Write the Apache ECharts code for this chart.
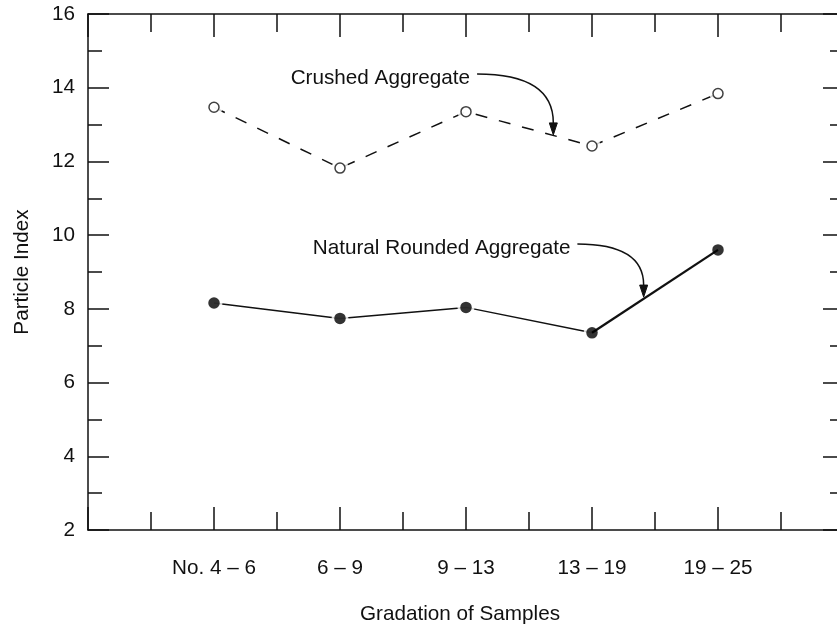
<!DOCTYPE html>
<html>
<head>
<meta charset="utf-8">
<script src="https://cdn.jsdelivr.net/npm/echarts@6/dist/echarts.min.js"></script>
<style>
html,body{margin:0;padding:0;background:#fff;overflow:hidden;}
#chart{width:850px;height:626px;}
</style>
</head>
<body>
<div id="chart"></div>
<script>
// ---- data ----
var categories = ['No. 4 \u2013 6', '6 \u2013 9', '9 \u2013 13', '13 \u2013 19', '19 \u2013 25'];
var crushed = [13.47, 11.82, 13.35, 12.42, 13.84];
var natural = [8.16, 7.74, 8.04, 7.35, 9.6];
var yTicks = [2, 4, 6, 8, 10, 12, 14, 16];
var annotations = [
  { text: 'Crushed Aggregate', start: [2.088, 14.37], end: [2.693, 12.72] },
  { text: 'Natural Rounded Aggregate', start: [2.884, 9.76], end: [3.41, 8.32] }
];

var FONT = "'Liberation Sans', Arial, Helvetica, sans-serif";
var FS = 20.7;
var INK = '#111';

function pairs(arr) { return arr.map(function (v, i) { return [i, v]; }); }

var chart = echarts.init(document.getElementById('chart'), null, { renderer: 'canvas' });

var axisLineStyle = { color: INK, width: 1.5 };
function xAxisCfg(pos, showLabels) {
  return {
    type: 'value', position: pos, min: -1, max: categories.length, interval: 1,
    axisLine: { show: true, onZero: false, lineStyle: axisLineStyle },
    axisTick: { show: true, inside: true, length: 23, lineStyle: axisLineStyle },
    minorTick: { show: true, splitNumber: 2, length: 18, lineStyle: axisLineStyle },
    splitLine: { show: false }, minorSplitLine: { show: false },
    axisLabel: {
      show: showLabels, margin: 28, color: INK, fontFamily: FONT, fontSize: FS,
      formatter: function (v) { return (v >= 0 && v < categories.length && v % 1 === 0) ? categories[v] : ''; }
    },
    name: showLabels ? 'Gradation of Samples' : '',
    nameLocation: 'middle', nameGap: 74,
    nameTextStyle: { color: INK, fontFamily: FONT, fontSize: FS, padding: [0, 12, 0, 0] }
  };
}
function yAxisCfg(pos, showLabels) {
  return {
    type: 'value', position: pos, min: yTicks[0], max: yTicks[yTicks.length - 1], interval: 2,
    axisLine: { show: true, onZero: false, lineStyle: axisLineStyle },
    axisTick: { show: true, inside: true, length: 21, lineStyle: axisLineStyle },
    minorTick: { show: true, splitNumber: 2, length: 14, lineStyle: axisLineStyle },
    splitLine: { show: false }, minorSplitLine: { show: false },
    axisLabel: { show: showLabels, margin: 13, color: INK, fontFamily: FONT, fontSize: FS },
    name: showLabels ? 'Particle Index' : '',
    nameLocation: 'middle', nameGap: 55, nameRotate: 90,
    nameTextStyle: { color: INK, fontFamily: FONT, fontSize: FS }
  };
}

var option = {
  backgroundColor: '#fff',
  animation: false,
  grid: { left: 88, top: 14, right: 6, bottom: 96, containLabel: false, outerBoundsMode: 'none' },
  xAxis: [xAxisCfg('bottom', true), xAxisCfg('top', false)],
  yAxis: [yAxisCfg('left', true), yAxisCfg('right', false)],
  series: [
    { type: 'line', z: 1, data: pairs(crushed), showSymbol: false, symbol: 'none',
      lineStyle: { color: INK, width: 1.5, type: [12, 12] } },
    { type: 'line', z: 1, data: pairs(natural).slice(0, 4), showSymbol: false, symbol: 'none',
      lineStyle: { color: INK, width: 1.5 } },
    { type: 'scatter', z: 2, data: pairs(crushed), symbol: 'circle', symbolSize: 17,
      itemStyle: { color: '#fff' }, silent: true },
    { type: 'scatter', z: 2, data: pairs(natural), symbol: 'circle', symbolSize: 17,
      itemStyle: { color: '#fff' }, silent: true },
    { type: 'line', z: 3, data: pairs(natural).slice(3), showSymbol: false, symbol: 'none',
      lineStyle: { color: INK, width: 2.3 } },
    { type: 'scatter', z: 4, data: pairs(crushed), symbol: 'circle', symbolSize: 10,
      itemStyle: { color: '#fff', borderColor: INK, borderWidth: 1.5 } },
    { type: 'scatter', z: 4, data: pairs(natural), symbol: 'circle', symbolSize: 11.5,
      itemStyle: { color: '#000' } }
  ]
};
chart.setOption(option);

// annotations positioned through the chart's own scales
var elements = [];
annotations.forEach(function (a) {
  var s = chart.convertToPixel({ gridIndex: 0 }, a.start);
  var e = chart.convertToPixel({ gridIndex: 0 }, a.end);
  var headLen = 12, headHalf = 4;
  var eBase = [e[0], e[1] - headLen];
  elements.push({
    type: 'text', z: 10,
    style: { text: a.text, x: s[0] - 7, y: s[1] + 4, textAlign: 'right', textVerticalAlign: 'middle',
      font: FS + 'px ' + FONT, fill: INK }
  });
  elements.push({
    type: 'bezierCurve', z: 10,
    shape: { x1: s[0], y1: s[1], x2: eBase[0], y2: eBase[1], cpx1: eBase[0], cpy1: s[1] },
    style: { stroke: INK, lineWidth: 1.5, fill: null }
  });
  elements.push({
    type: 'polygon', z: 10,
    shape: { points: [[e[0], e[1]], [eBase[0] - headHalf, eBase[1]], [eBase[0] + headHalf, eBase[1]]] },
    style: { fill: INK, stroke: INK, lineWidth: 1 }
  });
});
chart.setOption({ graphic: { elements: elements } });
</script>
</body>
</html>
